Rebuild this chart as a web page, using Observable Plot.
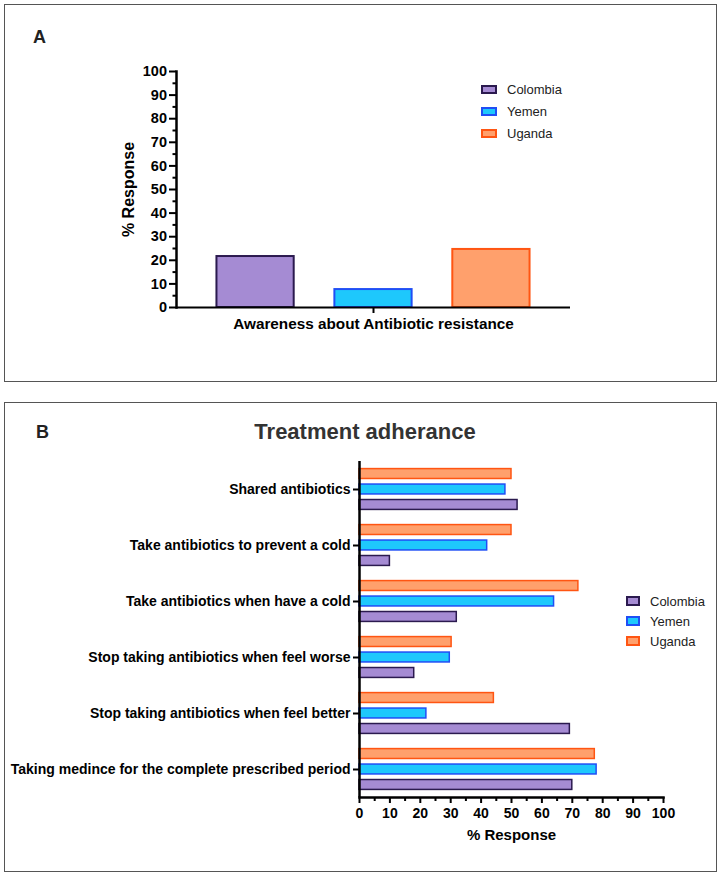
<!DOCTYPE html>
<html><head><meta charset="utf-8">
<script src="https://cdn.jsdelivr.net/npm/d3@7"></script>
<script src="https://cdn.jsdelivr.net/npm/@observablehq/plot@0.6"></script>
<style>
body{margin:0;background:#fff;font-family:"Liberation Sans",Arial,sans-serif;}
#page{position:relative;width:723px;height:876px;overflow:hidden;background:#fff;}
.box{position:absolute;border:1.5px solid #555;box-sizing:border-box;}
.abs{position:absolute;}
.letter{position:absolute;font-weight:bold;font-size:18px;line-height:20px;color:#222;}
.lrow{position:absolute;display:flex;align-items:center;font-size:13px;color:#222;white-space:nowrap;}
.sw{box-sizing:border-box;border:2px solid;}
</style></head><body>
<div id="page">
  <div class="box" style="left:4px;top:4px;width:713px;height:378px;"></div>
  <div class="box" style="left:4px;top:402px;width:713px;height:470px;"></div>
  <div class="letter" style="left:33px;top:27px;">A</div>
  <div class="letter" style="left:36px;top:422px;">B</div>
  <div class="abs" style="left:0;top:419px;width:730px;text-align:center;font-weight:bold;font-size:22px;line-height:26px;color:#333;">Treatment adherance</div>
  <div id="chartA" class="abs" style="left:0;top:50px;"></div>
  <div id="chartB" class="abs" style="left:0;top:450px;"></div>
  <div id="legendA"></div>
  <div id="legendB"></div>
</div>
<script>
// ---- data ----
const countries = ["Colombia", "Yemen", "Uganda"];
const awareness = [21.6, 7.6, 24.6];

const questions = [
  "Shared antibiotics",
  "Take antibiotics to prevent a cold",
  "Take antibiotics when have a cold",
  "Stop taking antibiotics when feel worse",
  "Stop taking antibiotics when feel better",
  "Taking medince for the complete prescribed period"
];
const colombiaB = [52, 10, 32, 18, 69.2, 70];
const yemenB    = [48, 42, 64, 29.7, 22, 78];
const ugandaB   = [50, 50, 72, 30.3, 44.2, 77.4];

const ticksMajor = [0, 10, 20, 30, 40, 50, 60, 70, 80, 90, 100];
const ticksMinor = [5, 15, 25, 35, 45, 55, 65, 75, 85, 95];

// ---- styles ----
const fills   = {Colombia: "#a58bd3", Yemen: "#1ec8fc", Uganda: "#ffa06c"};
const strokes = {Colombia: "#2b1a4f", Yemen: "#1f4ef5", Uganda: "#ff5512"};
const font = '"Liberation Sans", Arial, sans-serif';

// ---- Panel A ----
const dataA = countries.map((c, i) => ({country: c, value: awareness[i]}));
const plotA = Plot.plot({
  width: 600, height: 290,
  marginLeft: 176, marginRight: 30, marginTop: 21, marginBottom: 33,
  style: {fontFamily: font, fontSize: "13px", color: "#000", background: "transparent", overflow: "visible"},
  x: {domain: countries, paddingInner: 0.345, paddingOuter: 0.343, round: false},
  y: {domain: [0, 100]},
  marks: [
    Plot.barY(dataA, {x: "country", y: "value", fill: d => fills[d.country], stroke: d => strokes[d.country], strokeWidth: 2}),
    Plot.ruleY([0], {strokeWidth: 2}),
    Plot.frame({anchor: "left", strokeWidth: 2.5}),
    Plot.axisY({ticks: ticksMajor, tickSize: 7, tickPadding: 2.5, strokeWidth: 2, fontWeight: "bold", fontSize: 14.5, label: null}),
    Plot.axisY({ticks: ticksMinor, tickSize: 3.5, strokeWidth: 2, tickFormat: () => "", label: null}),
    Plot.text(["% Response"], {frameAnchor: "left", textAnchor: "middle", dx: -48, rotate: -90, fontWeight: "bold", fontSize: 16}),
    Plot.axisX({ticks: ["Yemen"], tickSize: 6, strokeWidth: 2, tickPadding: 5,
      tickFormat: () => "Awareness about Antibiotic resistance", fontWeight: "bold", fontSize: 15.3, label: null})
  ]
});
document.getElementById("chartA").appendChild(plotA);

// ---- Panel B ----
const seriesB = {Colombia: colombiaB, Yemen: yemenB, Uganda: ugandaB};
const rowsB = [];
questions.forEach((q, i) => {
  ["Uganda", "Yemen", "Colombia"].forEach(c => rowsB.push({question: q, country: c, value: seriesB[c][i]}));
});
const plotB = Plot.plot({
  width: 680, height: 400,
  marginLeft: 359, marginRight: 17, marginTop: 11, marginBottom: 53,
  style: {fontFamily: font, fontSize: "13px", color: "#000", background: "transparent", overflow: "visible"},
  facet: {data: rowsB, y: "question"},
  fy: {domain: questions, padding: 0, round: false},
  y: {domain: ["Uganda", "Yemen", "Colombia"], paddingInner: 0.36, paddingOuter: 0.49, round: false, axis: null},
  x: {domain: [0, 100]},
  marks: [
    Plot.barX(rowsB, {y: "country", x: "value", fill: d => fills[d.country], stroke: d => strokes[d.country], strokeWidth: 1.5}),
    Plot.ruleX([0], {strokeWidth: 2.5}),
    Plot.frame({anchor: "bottom", facetAnchor: "bottom", strokeWidth: 2.5}),
    Plot.axisFy({anchor: "left", tickSize: 6, strokeWidth: 2, tickPadding: 3, fontWeight: "bold", fontSize: 14, label: null}),
    Plot.axisX({ticks: ticksMajor, tickSize: 6, strokeWidth: 2, tickPadding: 5, fontWeight: "bold", fontSize: 14, label: null}),
    Plot.axisX({ticks: ticksMinor, tickSize: 4, strokeWidth: 2, tickFormat: () => "", label: null}),
    Plot.axisX({ticks: [], tickSize: 0, fontWeight: "bold", fontSize: 15,
      label: "% Response", labelAnchor: "center", labelArrow: "none", labelOffset: 42})
  ]
});
document.getElementById("chartB").appendChild(plotB);

// ---- legends ----
function legend(id, left, centers, sw) {
  const host = document.getElementById(id);
  countries.forEach((c, i) => {
    const row = document.createElement("div");
    row.className = "lrow";
    row.style.left = left + "px";
    row.style.top = (centers[i] - 9) + "px";
    row.style.height = "18px";
    const s = document.createElement("div");
    s.className = "sw";
    s.style.width = sw[0] + "px"; s.style.height = sw[1] + "px";
    s.style.background = fills[c]; s.style.borderColor = strokes[c];
    s.style.marginRight = "10px";
    const t = document.createElement("span");
    t.textContent = c;
    row.appendChild(s); row.appendChild(t);
    host.appendChild(row);
  });
}
legend("legendA", 481, [89, 111, 133], [16, 9]);
legend("legendB", 626, [601, 621, 641], [14, 10]);
</script>
</body></html>
